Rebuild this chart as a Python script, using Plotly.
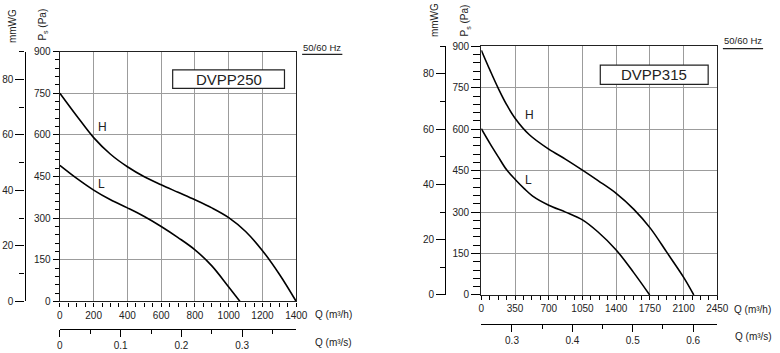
import plotly.graph_objects as go

W, H = 780, 353


def px(x):
    return x / W


def py(y):
    return 1 - y / H


# ---------------- data ----------------
# DVPP250 (left chart)  Q in m3/h, Ps in Pa
q250_H = [0, 100, 200, 300, 400, 500, 600, 700, 800, 900, 1000, 1100, 1200, 1300, 1400]
ps250_H = [750, 668, 590, 530, 485, 449, 420, 393, 366, 337, 302, 252, 183, 98, 0]
q250_L = [0, 100, 200, 300, 400, 500, 600, 700, 800, 900, 1000, 1067]
ps250_L = [490, 443, 401, 366, 337, 306, 270, 230, 186, 128, 52, 0]

# DVPP315 (right chart)
q315_H = [0, 92, 176, 261, 350, 499, 700, 872, 1050, 1212, 1400, 1584, 1754, 1925, 2104, 2206]
ps315_H = [886, 812, 748, 690, 640, 580, 528, 492, 452, 414, 368, 310, 242, 155, 62, 0]
q315_L = [0, 92, 176, 261, 352, 448, 533, 700, 875, 1050, 1212, 1400, 1584, 1748]
ps315_L = [602, 547, 500, 454, 418, 384, 358, 325, 300, 272, 228, 163, 80, 0]

# axis ticks
ps_ticks = [0, 150, 300, 450, 600, 750, 900]
mmwg_ticks = [0, 20, 40, 60, 80]
q250_ticks = [0, 200, 400, 600, 800, 1000, 1200, 1400]
q315_ticks = [0, 350, 700, 1050, 1400, 1750, 2100, 2450]
qs250_ticks = [0, 0.1, 0.2, 0.3]
qs250_minor = [0.05, 0.15, 0.25, 0.35]
qs315_ticks = [0.3, 0.4, 0.5, 0.6]
qs315_minor = [0.35, 0.45, 0.55]

models = ["DVPP250", "DVPP315"]
curve_labels = ["H", "L"]

FONT = "Liberation Sans, Arial, sans-serif"
TXT = "#222222"
GRID = "#9c9c9c"

fig = go.Figure()
line_style = dict(color="black", width=1.6, shape="spline", smoothing=1.0)
fig.add_trace(go.Scatter(x=q250_H, y=ps250_H, mode="lines", line=line_style, xaxis="x", yaxis="y"))
fig.add_trace(go.Scatter(x=q250_L, y=ps250_L, mode="lines", line=line_style, xaxis="x", yaxis="y"))
fig.add_trace(go.Scatter(x=q315_H, y=ps315_H, mode="lines", line=line_style, xaxis="x2", yaxis="y2"))
fig.add_trace(go.Scatter(x=q315_L, y=ps315_L, mode="lines", line=line_style, xaxis="x2", yaxis="y2"))

# empty traces so the secondary (overlaying) axes get drawn
for xa, ya in [("x3", "y"), ("x", "y3"), ("x4", "y2"), ("x2", "y4")]:
    fig.add_trace(go.Scatter(x=[], y=[], mode="none", xaxis=xa, yaxis=ya, hoverinfo="skip"))

tf = dict(family=FONT, size=10, color=TXT)


def main_x(domain, anchor, rng, ticks, minor_dtick):
    return dict(domain=domain, anchor=anchor, range=rng, tickmode="array", tickvals=ticks,
                ticks="outside", ticklen=4, tickcolor="black", tickwidth=1,
                minor=dict(dtick=minor_dtick, tick0=0, ticklen=4, tickcolor="black", showgrid=False, ticks="outside"),
                showgrid=True, gridcolor=GRID, gridwidth=1.3,
                showline=True, linecolor="#222", linewidth=1.4, mirror=True,
                zeroline=False, tickfont=tf, fixedrange=True)


def main_y(domain, anchor, ticklen, minorlen):
    return dict(domain=domain, anchor=anchor, range=[0, 900], tickmode="array", tickvals=ps_ticks,
                ticks="outside", ticklen=ticklen, tickcolor="black",
                minor=dict(dtick=30, tick0=0, ticklen=minorlen, tickcolor="black", showgrid=False, ticks="outside"),
                showgrid=True, gridcolor=GRID, gridwidth=1.3,
                showline=True, linecolor="#222", linewidth=1.4, mirror=True,
                zeroline=False, tickfont=tf, fixedrange=True)


def mmwg_axis(over, pos):
    return dict(overlaying=over, anchor="free", position=pos, side="left", range=[0, 90],
                tickmode="array", tickvals=mmwg_ticks, ticks="outside", ticklen=9, tickcolor="black",
                minor=dict(dtick=10, tick0=0, ticklen=5, tickcolor="black", ticks="outside"),
                showline=True, linecolor="black", linewidth=1.4, showgrid=False, zeroline=False,
                tickfont=tf, fixedrange=True)


def flow_axis(over, pos, rng, ticks, minor):
    return dict(overlaying=over, anchor="free", position=pos, side="bottom", range=rng,
                tickmode="array", tickvals=ticks, ticktext=[f"{t:g}" for t in ticks],
                ticks="outside", ticklen=7, tickcolor="black",
                minor=dict(tickmode="array", tickvals=minor, ticklen=4, tickcolor="black", ticks="outside"),
                showline=True, linecolor="black", linewidth=1.4, showgrid=False, zeroline=False,
                tickfont=tf, fixedrange=True)


fig.update_layout(
    width=W, height=H, autosize=False,
    margin=dict(l=0, r=0, t=0, b=0),
    paper_bgcolor="white", plot_bgcolor="white",
    showlegend=False,
    font=dict(family=FONT, color=TXT),
    xaxis=main_x([px(58), px(299)], "y", [0, 1400], q250_ticks, 50),
    yaxis=main_y([py(306), py(48)], "x", 6, 4),
    xaxis2=main_x([px(487.7), px(728.3)], "y2", [0, 2450], q315_ticks, 87.5),
    yaxis2=main_y([py(299.3), py(42.7)], "x2", 9, 7),
    yaxis3=mmwg_axis("y", px(22)),
    yaxis4=mmwg_axis("y2", px(451)),
    xaxis3=flow_axis("x", py(334), [0, 1400 / 3600], qs250_ticks, qs250_minor),
    xaxis4=flow_axis("x2", py(329), [0.2492, 0.640], qs315_ticks, qs315_minor),
)

ann = []


def text(x, y, s, size=10, xanchor="center", angle=0):
    ann.append(dict(x=px(x), y=py(y), xref="paper", yref="paper", text=s, showarrow=False,
                    xanchor=xanchor, yanchor="middle", textangle=angle,
                    font=dict(family=FONT, size=size, color=TXT)))


# axis titles
text(10, 22, "mmWG", 10, angle=-90)
text(41, 20, "P<sub>s</sub> (Pa)", 10, angle=-90)
text(440, 16, "mmWG", 10, angle=-90)
text(471, 16, "P<sub>s</sub> (Pa)", 10, angle=-90)

text(316, 319, "Q (m³/h)", 10, xanchor="left")
text(316, 348, "Q (m³/s)", 10, xanchor="left")
text(743, 314, "Q (m³/h)", 10, xanchor="left")
text(744, 342, "Q (m³/s)", 10, xanchor="left")

text(325, 44, "50/60 Hz", 9.5)
text(754, 37, "50/60 Hz", 9.5)

# model boxes
text(230, 76.5, models[0], 15)
text(664, 71.5, models[1], 15)

# curve labels (data coordinates)
for xr, yr, xv, yv, s in [("x", "y", 250, 628, curve_labels[0]), ("x", "y", 244, 422, curve_labels[1]),
                          ("x2", "y2", 502, 650, curve_labels[0]), ("x2", "y2", 492, 415, curve_labels[1])]:
    ann.append(dict(x=xv, y=yv, xref=xr, yref=yr, text=s, showarrow=False,
                    font=dict(family=FONT, size=12, color=TXT)))

fig.update_layout(annotations=ann)

shapes = [
    dict(type="rect", xref="paper", yref="paper", x0=px(173), x1=px(287), y0=py(86), y1=py(67),
         line=dict(color="#222", width=1.2), fillcolor="white", layer="above"),
    dict(type="rect", xref="paper", yref="paper", x0=px(609), x1=px(719), y0=py(82), y1=py(62),
         line=dict(color="#222", width=1.2), fillcolor="white", layer="above"),
    dict(type="line", xref="paper", yref="paper", x0=px(305), x1=px(346), y0=py(51), y1=py(51),
         line=dict(color="#222", width=1.2)),
    dict(type="line", xref="paper", yref="paper", x0=px(734), x1=px(775), y0=py(45), y1=py(45),
         line=dict(color="#222", width=1.2)),
]
fig.update_layout(shapes=shapes)

fig.write_html("out.html")
